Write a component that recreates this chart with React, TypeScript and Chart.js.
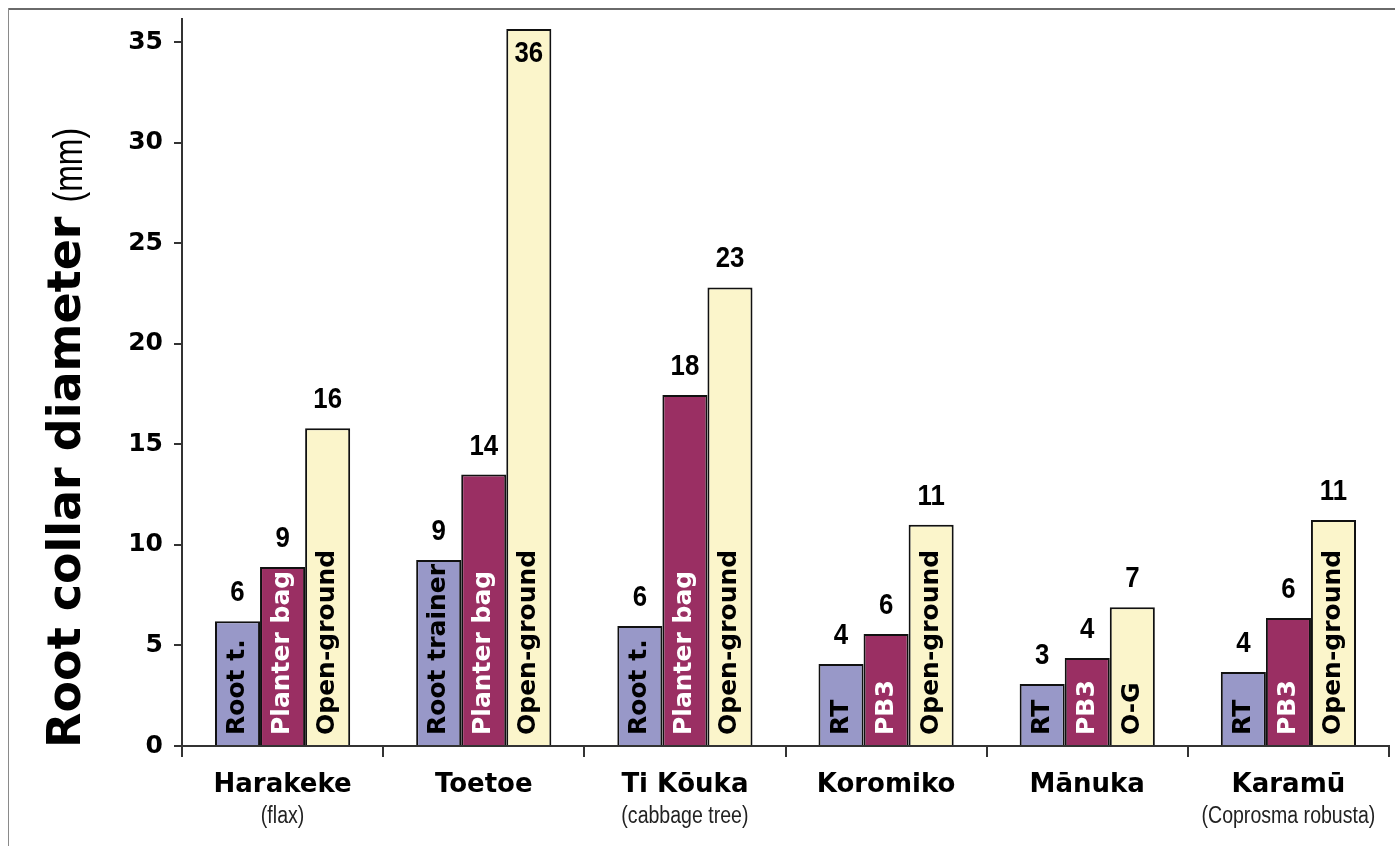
import React, { useEffect, useRef } from "react";
import { Chart, registerables } from "chart.js";

Chart.register(...registerables);

const categories = ["Harakeke", "Toetoe", "Ti Kōuka", "Koromiko", "Mānuka", "Karamū"];
const subtitles = ["(flax)", "", "(cabbage tree)", "", "", "(Coprosma robusta)"];

const rootTrainer = [6.2, 9.25, 5.97, 4.08, 3.08, 3.68];
const planterBag = [8.9, 13.5, 17.45, 5.57, 4.38, 6.36];
const openGround = [15.8, 35.65, 22.8, 11.0, 6.9, 11.24];

const rootTrainerLabels = ["6", "9", "6", "4", "3", "4"];
const planterBagLabels = ["9", "14", "18", "6", "4", "6"];
const openGroundLabels = ["16", "36", "23", "11", "7", "11"];

const rootTrainerInner = ["Root t.", "Root trainer", "Root t.", "RT", "RT", "RT"];
const planterBagInner = ["Planter bag", "Planter bag", "Planter bag", "PB3", "PB3", "PB3"];
const openGroundInner = ["Open-ground", "Open-ground", "Open-ground", "Open-ground", "O-G", "Open-ground"];

const yTicks = [0, 5, 10, 15, 20, 25, 30, 35];

const valueLabels = [rootTrainerLabels, planterBagLabels, openGroundLabels];
const innerLabels = [rootTrainerInner, planterBagInner, openGroundInner];
const innerColors = ["#000000", "#ffffff", "#000000"];

const BOLD = '"DejaVu Sans", "Liberation Sans", sans-serif';
const SANS = '"Liberation Sans", Arial, sans-serif';

function condensedText(ctx: any, text: string, x: number, y: number, sx: number) {
  ctx.save();
  ctx.translate(x, y);
  ctx.scale(sx, 1);
  ctx.fillText(text, 0, 0);
  ctx.restore();
}

const overlayPlugin = {
  id: "overlay",
  beforeDraw(chart: any) {
    const ctx = chart.ctx;
    ctx.save();
    ctx.fillStyle = "#ffffff";
    ctx.fillRect(0, 0, chart.width, chart.height);
    ctx.fillStyle = "#6a6a6a";
    ctx.fillRect(8, 8, chart.width - 8, 2);
    ctx.fillStyle = "#8a8a8a";
    ctx.fillRect(8, 8, 1, chart.height - 8);
    ctx.restore();
  },
  afterDraw(chart: any) {
    const ctx = chart.ctx;
    const area = chart.chartArea;
    const xs = chart.scales.x;
    ctx.save();
    for (let d = 0; d < 3; d++) {
      const meta = chart.getDatasetMeta(d);
      meta.data.forEach((bar: any, j: number) => {
        ctx.save();
        ctx.translate(bar.x, bar.base - 10);
        ctx.rotate(-Math.PI / 2);
        ctx.font = `bold 25px ${BOLD}`;
        ctx.fillStyle = innerColors[d];
        ctx.textAlign = "left";
        ctx.textBaseline = "middle";
        ctx.fillText(innerLabels[d][j], 0, 0);
        ctx.restore();
        ctx.font = `bold 30px ${SANS}`;
        ctx.fillStyle = "#000000";
        ctx.textAlign = "center";
        ctx.textBaseline = "alphabetic";
        let yb = bar.y - 20;
        if (yb - 22 < area.top) yb = bar.y + 33;
        condensedText(ctx, valueLabels[d][j], bar.x, yb, 0.86);
      });
    }
    categories.forEach((c, i) => {
      const cx = xs.getPixelForValue(i);
      ctx.font = `bold 26px ${BOLD}`;
      ctx.fillStyle = "#000000";
      ctx.textAlign = "center";
      ctx.textBaseline = "alphabetic";
      ctx.fillText(c, cx, 792);
      if (subtitles[i]) {
        ctx.font = `23px ${SANS}`;
        ctx.fillStyle = "#222222";
        condensedText(ctx, subtitles[i], cx, 823, 0.85);
      }
    });
    ctx.save();
    ctx.translate(80, 748);
    ctx.rotate(-Math.PI / 2);
    ctx.textAlign = "left";
    ctx.textBaseline = "alphabetic";
    ctx.fillStyle = "#000000";
    ctx.font = `bold 46px ${BOLD}`;
    const t1 = "Root collar diameter";
    ctx.fillText(t1, 0, 0);
    const w1 = ctx.measureText(t1).width;
    ctx.font = `40px ${SANS}`;
    condensedText(ctx, "(mm)", w1 + 14, 2, 0.8);
    ctx.restore();
    ctx.restore();
  },
};

export default function App() {
  const ref = useRef<HTMLCanvasElement | null>(null);
  useEffect(() => {
    if (!ref.current) return;
    const chart = new Chart(ref.current, {
      type: "bar",
      data: {
        labels: categories,
        datasets: [
          {
            label: "Root trainer",
            data: rootTrainer,
            backgroundColor: "#9898c8",
            borderColor: "#111111",
            borderWidth: 2,
          },
          {
            label: "Planter bag",
            data: planterBag,
            backgroundColor: "#9a2f63",
            borderColor: "#111111",
            borderWidth: 2,
          },
          {
            label: "Open-ground",
            data: openGround,
            backgroundColor: "#fbf5cb",
            borderColor: "#111111",
            borderWidth: 2,
          },
        ],
      },
      options: {
        responsive: false,
        animation: false,
        events: [],
        layout: { padding: { left: 0, top: 19, right: 6, bottom: 0 } },
        plugins: { legend: { display: false }, tooltip: { enabled: false } },
        datasets: { bar: { categoryPercentage: 0.672, barPercentage: 1 } },
        scales: {
          x: {
            offset: true,
            grid: {
              display: true,
              offset: true,
              drawOnChartArea: false,
              drawTicks: true,
              tickLength: 11,
              color: (c: any) => (c.index === categories.length ? "rgba(0,0,0,0)" : "#333333"),
              lineWidth: 2,
            },
            border: { display: true, color: "#333333", width: 2 },
            ticks: { display: false },
            afterFit: (s: any) => {
              s.height = 100;
              s.paddingLeft = 0;
              s.paddingRight = 0;
            },
          },
          y: {
            min: 0,
            max: 36.15,
            afterBuildTicks: (s: any) => {
              s.ticks = yTicks.map((v) => ({ value: v }));
            },
            grid: {
              display: true,
              drawOnChartArea: false,
              drawTicks: true,
              tickLength: 8,
              color: "#333333",
              lineWidth: 2,
            },
            border: { display: true, color: "#333333", width: 2 },
            ticks: {
              padding: 11,
              color: "#000000",
              font: { family: BOLD, weight: "bold", size: 25 },
            },
            afterFit: (s: any) => {
              s.width = 182;
              s.paddingTop = 0;
              s.paddingBottom = 0;
            },
          },
        },
      },
      plugins: [overlayPlugin],
    });
    return () => chart.destroy();
  }, []);
  return (
    <div style={{ position: "absolute", left: 0, top: 0, width: 1395, height: 846 }}>
      <canvas ref={ref} width={1395} height={846} style={{ display: "block" }} />
    </div>
  );
}
